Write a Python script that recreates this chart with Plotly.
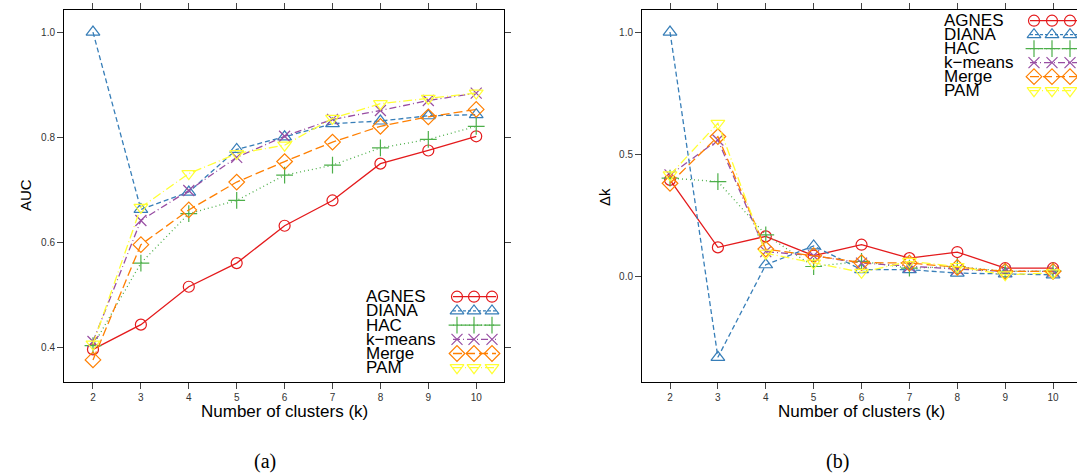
import plotly.graph_objects as go

W, H = 1077, 474

k_values = [2, 3, 4, 5, 6, 7, 8, 9, 10]
methods = ["AGNES", "DIANA", "HAC", "k\u2212means", "Merge", "PAM"]

# Panel (a): AUC
auc_agnes = [0.397, 0.444, 0.516, 0.561, 0.632, 0.680, 0.750, 0.775, 0.802]
auc_diana = [1.000, 0.663, 0.696, 0.777, 0.801, 0.826, 0.831, 0.841, 0.843]
auc_hac = [0.404, 0.561, 0.655, 0.680, 0.728, 0.747, 0.780, 0.796, 0.821]
auc_kmeans = [0.412, 0.642, 0.699, 0.762, 0.802, 0.834, 0.851, 0.870, 0.884]
auc_merge = [0.377, 0.596, 0.662, 0.715, 0.754, 0.791, 0.821, 0.839, 0.853]
auc_pam = [0.407, 0.667, 0.731, 0.769, 0.785, 0.836, 0.864, 0.874, 0.884]

# Panel (b): delta k
dk_agnes = [0.396, 0.120, 0.165, 0.086, 0.131, 0.076, 0.101, 0.035, 0.035]
dk_diana = [1.000, -0.329, 0.049, 0.126, 0.029, 0.029, 0.015, 0.012, 0.008]
dk_hac = [0.403, 0.389, 0.171, 0.042, 0.063, 0.035, 0.042, 0.022, 0.024]
dk_kmeans = [0.416, 0.559, 0.103, 0.086, 0.056, 0.042, 0.031, 0.022, 0.022]
dk_merge = [0.382, 0.573, 0.113, 0.086, 0.058, 0.056, 0.038, 0.022, 0.022]
dk_pam = [0.416, 0.627, 0.096, 0.056, 0.018, 0.063, 0.042, 0.008, 0.016]

auc_series = [auc_agnes, auc_diana, auc_hac, auc_kmeans, auc_merge, auc_pam]
dk_series = [dk_agnes, dk_diana, dk_hac, dk_kmeans, dk_merge, dk_pam]

auc_ticks = [0.4, 0.6, 0.8, 1.0]
dk_ticks = [0.0, 0.5, 1.0]

colors = ["#E41A1C", "#377EB8", "#4DAF4A", "#984EA3", "#FF7F00", "#FFFF33"]
symbols = ["circle-open", "triangle-up-open", "cross-thin-open", "x-thin-open",
           "diamond-open", "triangle-down-open"]
msizes = [11, 12, 12, 11, 12, 12]
dashes = ["solid", "5px,3px", "1px,3px", "7px,3px,1px,3px", "9px,4px", "9px,3px,1px,3px"]
LW = 1.3

fig = go.Figure()

for i, name in enumerate(methods):
    for (ser, xa, ya) in [(auc_series, "x", "y"), (dk_series, "x2", "y2")]:
        fig.add_trace(go.Scatter(
            x=k_values, y=ser[i], xaxis=xa, yaxis=ya, mode="lines+markers",
            line=dict(color=colors[i], width=LW, dash=dashes[i]),
            marker=dict(symbol=symbols[i], size=msizes[i], color=colors[i],
                        line=dict(width=1.2, color=colors[i])),
            showlegend=False, hoverinfo="skip"))

# Custom legend keys drawn on an overlay pixel axis (x3/y3)
def add_legend(text_x, row0, row_step, key_xs, line_x0, line_x1):
    for i, name in enumerate(methods):
        yy = row0 + row_step * i
        fig.add_trace(go.Scatter(
            x=[line_x0, line_x1], y=[yy, yy], xaxis="x3", yaxis="y3", mode="lines",
            line=dict(color=colors[i], width=LW, dash=dashes[i] if i != 1 else "3px,2px"),
            showlegend=False, hoverinfo="skip", cliponaxis=False))
        fig.add_trace(go.Scatter(
            x=key_xs, y=[yy] * len(key_xs), xaxis="x3", yaxis="y3", mode="markers",
            marker=dict(symbol=symbols[i], size=msizes[i], color=colors[i],
                        line=dict(width=1.2, color=colors[i])),
            showlegend=False, hoverinfo="skip", cliponaxis=False))
        fig.add_annotation(x=text_x / W, y=1 - yy / H, xref="paper", yref="paper",
                           text=name, showarrow=False, xanchor="left", yanchor="middle",
                           font=dict(family="Liberation Sans", size=17, color="black"))

add_legend(364, 296.7, 14.2, [457, 474, 492], 453, 496)
add_legend(942, 20.7, 14.0, [1034, 1052, 1070], 1030, 1080)

ydom = [1 - 382 / H, 1 - 10 / H]
tickfont = dict(family="Liberation Sans", size=10, color="#333")
axis_common = dict(showgrid=False, zeroline=False, showline=True, linecolor="black",
                   linewidth=1, ticks="outside", ticklen=6, tickwidth=1, tickcolor="#444",
                   tickfont=tickfont)

fig.update_layout(
    width=W, height=H, margin=dict(l=0, r=0, t=0, b=0),
    paper_bgcolor="white", plot_bgcolor="rgba(0,0,0,0)",
    xaxis=dict(domain=[64 / W, 504 / W], range=[1.395, 10.58], tickvals=k_values,
               mirror="ticks", anchor="y", **axis_common),
    yaxis=dict(domain=ydom, range=[0.335, 1.042], tickvals=auc_ticks, tickformat=".1f",
               mirror="ticks", anchor="x", **axis_common),
    xaxis2=dict(domain=[642 / W, 1.0], range=[1.415, 10.50], tickvals=k_values,
                mirror="ticks", anchor="y2", **axis_common),
    yaxis2=dict(domain=ydom, range=[-0.43, 1.09], tickvals=dk_ticks, tickformat=".1f",
                mirror=False, anchor="x2", **axis_common),
    xaxis3=dict(domain=[0, 1], range=[0, W], visible=False, fixedrange=True, anchor="y3"),
    yaxis3=dict(domain=[0, 1], range=[H, 0], visible=False, fixedrange=True, anchor="x3"),
    showlegend=False,
)

title_font = dict(family="Liberation Sans", size=17, color="black")
fig.add_annotation(x=284 / W, y=1 - 411 / H, xref="paper", yref="paper",
                   text="Number of clusters (k)", showarrow=False, font=title_font,
                   xanchor="center", yanchor="middle")
fig.add_annotation(x=861 / W, y=1 - 411 / H, xref="paper", yref="paper",
                   text="Number of clusters (k)", showarrow=False, font=title_font,
                   xanchor="center", yanchor="middle")
fig.add_annotation(x=25 / W, y=1 - 195 / H, xref="paper", yref="paper",
                   text="AUC", textangle=-90, showarrow=False,
                   font=dict(family="Liberation Sans", size=15, color="black"),
                   xanchor="center", yanchor="middle")
fig.add_annotation(x=605 / W, y=1 - 197 / H, xref="paper", yref="paper",
                   text="\u0394k", textangle=-90, showarrow=False,
                   font=dict(family="Liberation Sans", size=15, color="black"),
                   xanchor="center", yanchor="middle")
label_font = dict(family="Liberation Serif", size=20, color="black")
fig.add_annotation(x=265 / W, y=1 - 461 / H, xref="paper", yref="paper",
                   text="(a)", showarrow=False, font=label_font,
                   xanchor="center", yanchor="middle")
fig.add_annotation(x=838 / W, y=1 - 461 / H, xref="paper", yref="paper",
                   text="(b)", showarrow=False, font=label_font,
                   xanchor="center", yanchor="middle")

fig.write_html("out.html", config={"displayModeBar": False},
               post_script="document.body.style.margin='0';document.body.style.overflow='hidden';")
